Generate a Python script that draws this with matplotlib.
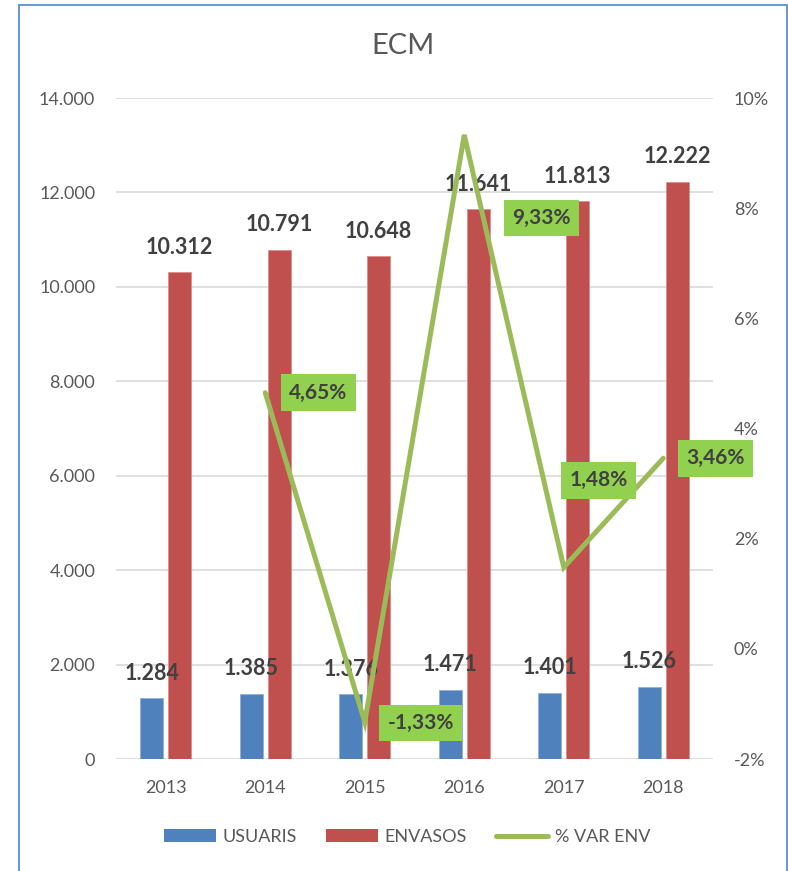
import numpy as np
import matplotlib
matplotlib.use('Agg')
import matplotlib.pyplot as plt
from matplotlib.patches import Rectangle, Patch
from matplotlib.lines import Line2D
from matplotlib.ticker import FuncFormatter

plt.rcParams['font.family'] = ['Lato', 'DejaVu Sans']

# Data
years = ['2013', '2014', '2015', '2016', '2017', '2018']
usuaris = [1284, 1385, 1376, 1471, 1401, 1526]
envasos = [10312, 10791, 10648, 11641, 11813, 12222]
var_years = ['2014', '2015', '2016', '2017', '2018']
var_env = [4.65, -1.33, 9.33, 1.48, 3.46]

# Label offsets (pixels, y up) for the % labels, as placed in the original
label_offsets = [(53, 0), (56, -1), (77, -83), (35, 87), (52, 0)]

blue = '#4F81BD'
red = '#C0504D'
green = '#9BBB59'
box_green = '#92D050'
txt_dark = '#404040'
txt_grey = '#595959'

fig = plt.figure(figsize=(7.88, 8.71), dpi=100)
ax = fig.add_axes([116 / 788, 1 - 759 / 871, (713 - 116) / 788, (759 - 98) / 871])

x = np.arange(len(years))
w = 0.23
b1 = ax.bar(x - 0.14, usuaris, w, color=blue, edgecolor='#8fb0d8', linewidth=0.6, zorder=2)
b2 = ax.bar(x + 0.14, envasos, w, color=red, edgecolor='#dc8f8c', linewidth=0.6, zorder=2)

for bars, vals in [(b1, usuaris), (b2, envasos)]:
    for rect, v in zip(bars, vals):
        ax.annotate(f"{v:,}".replace(',', '.'),
                    (rect.get_x() + rect.get_width() / 2, v),
                    xytext=(0, 25), textcoords='offset pixels',
                    ha='center', va='center', fontsize=15.5, fontweight='bold',
                    color=txt_dark, zorder=3)

ax.set_xlim(-0.5, len(years) - 0.5)
ax.set_ylim(0, 14000)
ax.set_yticks(np.arange(0, 14001, 2000))
ax.yaxis.set_major_formatter(FuncFormatter(lambda v, p: f"{int(v):,}".replace(',', '.')))
ax.set_xticks(x)
ax.set_xticklabels(years)
ax.grid(axis='y', color='#D9D9D9', linewidth=1.2, zorder=0)
ax.set_axisbelow(True)
for s in ax.spines.values():
    s.set_visible(False)
ax.tick_params(axis='both', length=0, labelsize=13, labelcolor=txt_grey, pad=15)

ax2 = ax.twinx()
ax2.set_ylim(-2, 10)
ax2.set_yticks(np.arange(-2, 10.1, 2))
ax2.yaxis.set_major_formatter(FuncFormatter(lambda v, p: f"{int(v)}%"))
for s in ax2.spines.values():
    s.set_visible(False)
ax2.tick_params(axis='y', length=0, labelsize=13, labelcolor=txt_grey, pad=15)

xv = [years.index(y) for y in var_years]
ax2.plot(xv, var_env, color=green, linewidth=3.6, solid_capstyle='round',
         solid_joinstyle='miter', zorder=4)

for xi, v, off in zip(xv, var_env, label_offsets):
    ax2.annotate(f"{v:.2f}%".replace('.', ','), (xi, v),
                 xytext=off, textcoords='offset pixels',
                 ha='center', va='center', fontsize=15, fontweight='bold',
                 color=txt_dark, zorder=5,
                 bbox=dict(boxstyle='square,pad=0.4', facecolor=box_green, edgecolor='none'))

fig.text(403 / 788, 1 - 46 / 871, 'ECM', ha='center', va='center', fontsize=21, color=txt_grey)

handles = [Patch(facecolor=blue, edgecolor='none'),
           Patch(facecolor=red, edgecolor='none'),
           Line2D([0], [0], color=green, linewidth=3.6, solid_capstyle='round')]
fig.legend(handles, ['USUARIS', 'ENVASOS', '% VAR ENV'], loc='center',
           bbox_to_anchor=(407 / 788, 1 - 837 / 871), ncol=3, frameon=False,
           fontsize=13, labelcolor=txt_grey, handlelength=2.9, handleheight=0.75,
           handletextpad=0.35, columnspacing=1.6)

# chart border
fig.patches.append(Rectangle((19 / 788, -0.02), (787 - 19) / 788, 1 - 5 / 871 + 0.02,
                             transform=fig.transFigure, fill=False,
                             edgecolor='#6A9AD2', linewidth=1.5))

fig.savefig('out.png', dpi=100)
